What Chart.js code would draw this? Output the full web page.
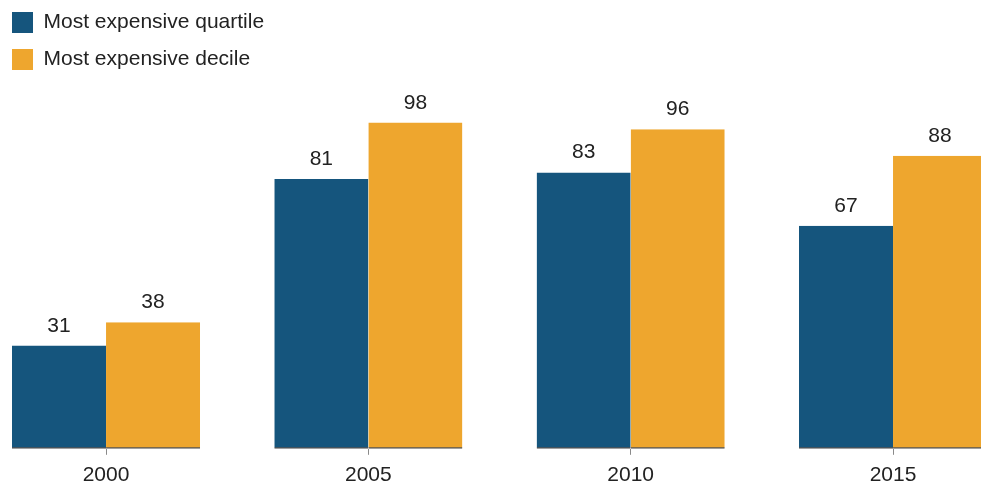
<!DOCTYPE html>
<html>
<head>
<meta charset="utf-8">
<title>Most expensive quartile and decile</title>
<script src="https://cdn.jsdelivr.net/npm/chart.js@4.4.1/dist/chart.umd.min.js"></script>
<style>
  html, body { margin: 0; padding: 0; background: #fff; overflow: hidden; }
  body { width: 981px; height: 487px; position: relative; }
  /* the canvas sits a little past the top/left edge, like in the original */
  #wrap { position: absolute; left: -4px; top: -4px; width: 985px; height: 501px; }
</style>
</head>
<body>
<div id="wrap"><canvas id="chart_bars"></canvas></div>
<script>
//data
var years = [2000, 2005, 2010, 2015];
var quartileValues = [31, 81, 83, 67];
var decileValues = [38, 98, 96, 88];
var seriesNames = ["Most expensive quartile", "Most expensive decile"];

var blue = "#15557d";
var orange = "#eea62e";
var textColor = "#222222";
var fontFamily = "'Helvetica Neue', Helvetica, 'Liberation Sans', Arial, sans-serif";

//turn the arrays into x/y points for the linear x scale
function toPoints(values) {
    var pts = [];
    for (var i = 0; i < years.length; i++) {
        pts.push({ x: years[i], y: values[i] });
    }
    return pts;
}

//small plugin that writes the value above each bar
var valueLabels = {
    id: "valueLabels",
    afterDatasetsDraw: function(chart) {
        var ctx = chart.ctx;
        ctx.save();
        ctx.font = "21px " + fontFamily;
        ctx.fillStyle = textColor;
        ctx.textAlign = "center";
        ctx.textBaseline = "alphabetic";
        chart.data.datasets.forEach(function(ds, di) {
            var meta = chart.getDatasetMeta(di);
            meta.data.forEach(function(bar, i) {
                ctx.fillText(String(ds.data[i].y), bar.x, bar.y - 14);
            });
        });
        ctx.restore();
    }
};

var ctxBars = document.getElementById("chart_bars").getContext("2d");
var chartBars = new Chart(ctxBars, {
    type: "bar",
    data: {
        datasets: [{
            label: seriesNames[0],
            data: toPoints(quartileValues),
            backgroundColor: blue,
            borderColor: "#1e1e1e",
            borderWidth: { top: 0, left: 0, right: 0, bottom: 1.5 },
            borderSkipped: false
        }, {
            label: seriesNames[1],
            data: toPoints(decileValues),
            backgroundColor: orange,
            borderColor: "#1e1e1e",
            borderWidth: { top: 0, left: 0, right: 0, bottom: 1.5 },
            borderSkipped: false
        }]
    },
    options: {
        responsive: true,
        maintainAspectRatio: false,
        animation: false,
        categoryPercentage: 0.717,
        barPercentage: 1,
        layout: { padding: { left: 0, top: 0, right: 0, bottom: 1 } },
        plugins: {
            legend: {
                position: "chartArea",
                align: "start",
                labels: {
                    boxWidth: 21,
                    boxHeight: 21,
                    padding: 16,
                    color: textColor,
                    font: { size: 21, family: fontFamily },
                    //plain squares, no outline
                    generateLabels: function(chart) {
                        var items = Chart.defaults.plugins.legend.labels.generateLabels(chart);
                        items.forEach(function(it) { it.lineWidth = 0; });
                        return items;
                    }
                }
            },
            tooltip: { enabled: false }
        },
        scales: {
            x: {
                type: "linear",
                offset: false,
                min: 1997.903,
                max: 2016.677,
                afterBuildTicks: function(scale) {
                    scale.ticks = years.map(function(y) { return { value: y }; });
                },
                ticks: {
                    color: textColor,
                    padding: 8,
                    font: { size: 21, family: fontFamily },
                    callback: function(v) { return String(v); }
                },
                grid: {
                    offset: false,
                    drawOnChartArea: false,
                    drawTicks: true,
                    tickLength: 6,
                    color: "#8a8a8a",
                    lineWidth: 1
                },
                border: { display: false }
            },
            y: {
                display: false,
                min: 0,
                max: 136
            }
        }
    },
    plugins: [valueLabels]
});
</script>
</body>
</html>
